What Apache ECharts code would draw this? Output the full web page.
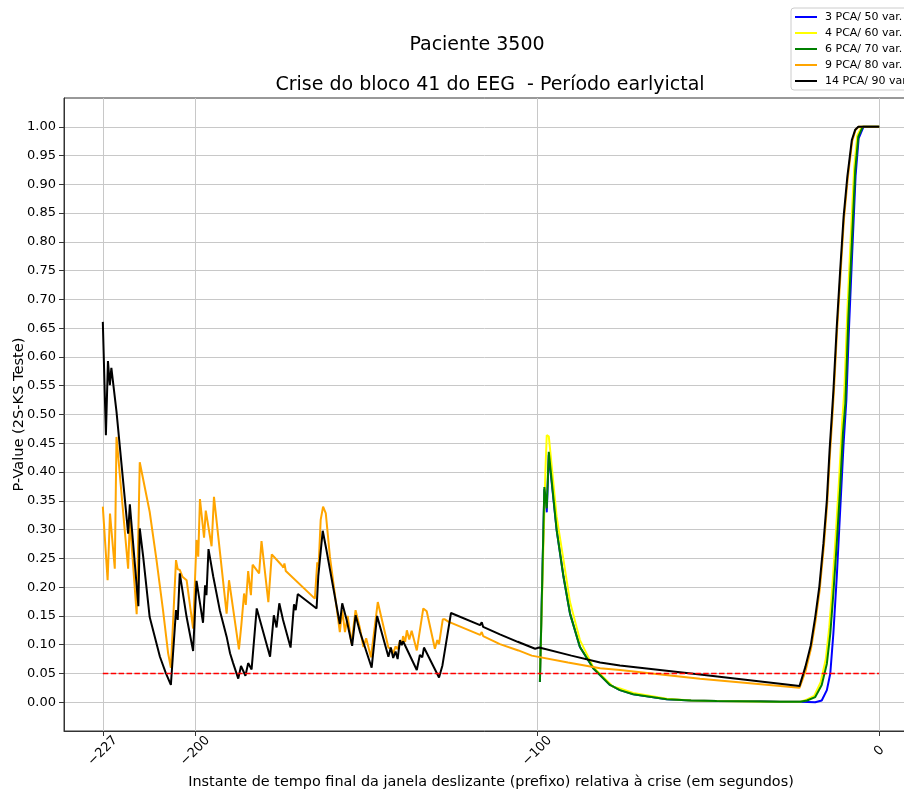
<!DOCTYPE html>
<html>
<head>
<meta charset="utf-8">
<title>Paciente 3500</title>
<script src="https://cdn.jsdelivr.net/npm/echarts@6/dist/echarts.min.js"></script>
<style>
  html, body { margin: 0; padding: 0; background: #fff; }
  #chart { width: 904px; height: 791px; }
</style>
</head>
<body>
<div id="chart"></div>
<script>
// Tick positions
var xTicks = [-227, -200, -100, 0];
var yTicks = [0, 0.05, 0.1, 0.15, 0.2, 0.25, 0.3, 0.35, 0.4, 0.45, 0.5,
              0.55, 0.6, 0.65, 0.7, 0.75, 0.8, 0.85, 0.9, 0.95, 1.0];

var seriesNames = ['3 PCA/ 50 var.', '4 PCA/ 60 var.', '6 PCA/ 70 var.', '9 PCA/ 80 var.', '14 PCA/ 90 var.'];

// p-values per window end instant [seconds, p-value]
var pca3 = [
  [-99.2, 0.035], [-97.9, 0.37], [-97.2, 0.33], [-96.6, 0.43], [-94.3, 0.299],
  [-92.3, 0.218], [-90.4, 0.154], [-87.5, 0.096], [-83.6, 0.059], [-78.7, 0.030],
  [-75.8, 0.021], [-71.9, 0.014], [-62.1, 0.005], [-55, 0.003], [-47.5, 0.002],
  [-35.6, 0.002], [-35.2, 0.004], [-34.8, 0.002], [-29.0, 0.001], [-23.1, 0.001],
  [-18.7, 0.0], [-16.8, 0.003], [-15.3, 0.021], [-14.3, 0.050], [-13.4, 0.119],
  [-12.4, 0.218], [-11.4, 0.334], [-10.4, 0.450], [-9.6, 0.525], [-8.9, 0.64],
  [-7.9, 0.78], [-6.9, 0.915], [-6.0, 0.98], [-4.6, 1.0], [0, 1.0]
];

var pca4 = [
  [-99.2, 0.04], [-97.6, 0.40], [-97.2, 0.464], [-96.6, 0.462], [-94.3, 0.322],
  [-92.3, 0.247], [-90.4, 0.174], [-87.5, 0.108], [-83.6, 0.061], [-77.8, 0.027],
  [-75.8, 0.024], [-71.9, 0.016], [-62.1, 0.006], [-55, 0.003], [-47.5, 0.002],
  [-29.0, 0.001], [-23.1, 0.001], [-21.4, 0.004], [-19.0, 0.011], [-17.1, 0.035],
  [-15.6, 0.075], [-14.6, 0.13], [-13.7, 0.2], [-12.7, 0.29], [-11.7, 0.39],
  [-10.9, 0.48], [-10.2, 0.54], [-9.3, 0.68], [-8.3, 0.81], [-7.3, 0.93],
  [-6.4, 0.985], [-5.1, 1.0], [0, 1.0]
];

var pca6 = [
  [-99.2, 0.035], [-97.9, 0.374], [-97.2, 0.337], [-96.6, 0.435], [-94.3, 0.299],
  [-92.3, 0.218], [-90.4, 0.154], [-87.5, 0.096], [-83.6, 0.059], [-78.7, 0.030],
  [-75.8, 0.021], [-71.9, 0.014], [-62.1, 0.005], [-55, 0.003], [-47.5, 0.002],
  [-29.0, 0.001], [-23.1, 0.001], [-21.1, 0.003], [-18.7, 0.009], [-16.8, 0.030],
  [-15.3, 0.067], [-14.3, 0.119], [-13.4, 0.189], [-12.4, 0.276], [-11.4, 0.374],
  [-10.6, 0.467], [-9.9, 0.519], [-9.0, 0.670], [-8.0, 0.798], [-7.0, 0.925],
  [-6.1, 0.983], [-4.8, 1.0], [0, 1.0]
];

var pca9 = [
  [-227.0, 0.340], [-225.6, 0.212], [-224.9, 0.328], [-223.5, 0.232], [-223.0, 0.461],
  [-219.6, 0.232], [-219.1, 0.317], [-217.1, 0.153], [-216.2, 0.417], [-213.3, 0.331],
  [-211.3, 0.247], [-209.4, 0.160], [-207.9, 0.085], [-207.1, 0.060], [-205.6, 0.247],
  [-205.1, 0.231], [-204.5, 0.230], [-203.7, 0.218], [-202.5, 0.212], [-200.6, 0.128],
  [-199.6, 0.282], [-199.1, 0.253], [-198.6, 0.353], [-197.4, 0.286], [-196.9, 0.333],
  [-195.2, 0.271], [-194.5, 0.357], [-190.8, 0.154], [-190.1, 0.212], [-187.2, 0.092],
  [-186.5, 0.134], [-185.7, 0.189], [-185.2, 0.169], [-184.5, 0.228], [-183.7, 0.186],
  [-183.2, 0.239], [-181.3, 0.224], [-180.6, 0.280], [-178.6, 0.174], [-177.6, 0.257],
  [-174.7, 0.238], [-174.2, 0.234], [-173.9, 0.241], [-173.5, 0.228], [-165.0, 0.180],
  [-164.3, 0.243], [-163.9, 0.237], [-163.3, 0.317], [-162.6, 0.340], [-161.8, 0.328],
  [-160.6, 0.253], [-157.7, 0.122], [-157.0, 0.160], [-156.2, 0.122], [-155.4, 0.150],
  [-154.3, 0.102], [-153.1, 0.160], [-151.8, 0.128], [-150.8, 0.096], [-150.0, 0.111],
  [-148.6, 0.078], [-146.6, 0.174], [-145.5, 0.146], [-143.5, 0.095], [-142.8, 0.093],
  [-142.1, 0.085], [-141.4, 0.097], [-140.8, 0.092], [-140.1, 0.107], [-139.6, 0.100],
  [-139.2, 0.115], [-138.6, 0.105], [-138.1, 0.125], [-137.4, 0.109], [-136.7, 0.124],
  [-135.2, 0.090], [-133.3, 0.163], [-132.8, 0.165], [-132.3, 0.158], [-129.9, 0.093],
  [-129.2, 0.108], [-128.7, 0.101], [-127.6, 0.144], [-127.0, 0.144], [-126.0, 0.140],
  [-116.7, 0.117], [-116.2, 0.122], [-115.8, 0.115], [-110.9, 0.101], [-105.5, 0.090],
  [-101.6, 0.081], [-101.4, 0.083], [-91.0, 0.069], [-81.6, 0.059], [-75.8, 0.056],
  [-52.4, 0.041], [-23.3, 0.025], [-21.5, 0.055], [-19.9, 0.094], [-18.6, 0.142],
  [-17.4, 0.195], [-16.2, 0.270], [-15.2, 0.345], [-14.4, 0.430], [-13.7, 0.495],
  [-13.2, 0.545], [-12.3, 0.648], [-11.3, 0.745], [-10.3, 0.840], [-9.2, 0.910],
  [-7.9, 0.975], [-6.9, 0.995], [-6.0, 1.0], [0, 1.0]
];

var pca14 = [
  [-227.0, 0.661], [-226.1, 0.464], [-225.5, 0.593], [-224.95, 0.551], [-224.5, 0.581],
  [-223.0, 0.505], [-219.6, 0.293], [-219.1, 0.344], [-216.6, 0.167], [-216.2, 0.302],
  [-215.2, 0.253], [-213.3, 0.148], [-210.3, 0.079], [-208.6, 0.051], [-207.1, 0.030],
  [-205.6, 0.160], [-205.1, 0.143], [-204.5, 0.224], [-202.5, 0.148], [-200.6, 0.089],
  [-199.6, 0.211], [-197.7, 0.138], [-197.1, 0.203], [-196.7, 0.186], [-196.1, 0.266],
  [-194.7, 0.218], [-192.8, 0.160], [-190.8, 0.114], [-189.8, 0.085], [-188.9, 0.068],
  [-187.4, 0.041], [-186.6, 0.063], [-185.3, 0.046], [-184.5, 0.068], [-183.5, 0.057],
  [-182.0, 0.163], [-178.1, 0.079], [-177.0, 0.151], [-176.2, 0.130], [-175.4, 0.172],
  [-174.3, 0.143], [-172.1, 0.095], [-171.1, 0.170], [-170.6, 0.160], [-170.0, 0.188],
  [-164.5, 0.163], [-164.0, 0.219], [-163.7, 0.218], [-162.7, 0.298], [-161.6, 0.264],
  [-157.7, 0.136], [-157.0, 0.172], [-155.7, 0.143], [-154.1, 0.098], [-153.1, 0.151],
  [-151.8, 0.122], [-148.4, 0.060], [-146.8, 0.150], [-143.5, 0.079], [-142.8, 0.095],
  [-142.1, 0.077], [-141.4, 0.088], [-140.8, 0.075], [-140.1, 0.108], [-139.6, 0.099],
  [-139.2, 0.106], [-135.2, 0.056], [-134.3, 0.082], [-133.6, 0.078], [-133.1, 0.095],
  [-128.7, 0.043], [-127.7, 0.064], [-127.2, 0.067], [-125.2, 0.155], [-116.7, 0.134],
  [-116.2, 0.139], [-115.8, 0.131], [-110.9, 0.118], [-105.7, 0.105], [-100.6, 0.093],
  [-99.4, 0.095], [-90.0, 0.081], [-81.6, 0.069], [-75.8, 0.064], [-52.4, 0.048],
  [-23.3, 0.028], [-21.6, 0.061], [-20.0, 0.099], [-18.7, 0.148], [-17.5, 0.201],
  [-16.3, 0.276], [-15.3, 0.351], [-14.5, 0.438], [-13.8, 0.502], [-13.4, 0.540],
  [-12.4, 0.653], [-11.4, 0.751], [-10.4, 0.844], [-9.3, 0.914], [-8.0, 0.977],
  [-7.0, 0.995], [-6.1, 1.0], [0, 1.0]
];

// significance threshold
var threshold = [[-227, 0.05], [0, 0.05]];

var colors = ['#0000ff', '#ffff00', '#008000', '#ffa500', '#000000'];
var seriesData = [pca3, pca4, pca6, pca9, pca14];

var FONT = 'DejaVu Sans';
var chart = echarts.init(document.getElementById('chart'), null, { renderer: 'canvas' });

function minusSign(v) {
  return String(v).replace('-', '\u2212');
}

var series = seriesData.map(function (d, i) {
  return {
    name: seriesNames[i],
    type: 'line',
    data: d,
    showSymbol: false,
    symbol: 'none',
    color: colors[i],
    lineStyle: { color: colors[i], width: 2 },
    z: 2 + i,
    animation: false,
    clip: true
  };
});
series.push({
  name: 'limiar',
  type: 'line',
  data: threshold,
  showSymbol: false,
  symbol: 'none',
  color: '#ff0000',
  lineStyle: { color: '#ff0000', width: 1.6, type: [5.5, 2.4] },
  z: 10,
  animation: false
});

chart.setOption({
  animation: false,
  backgroundColor: '#fff',
  title: [
    {
      text: 'Paciente 3500',
      left: 477, top: 36, textAlign: 'center', padding: 0,
      textStyle: { fontFamily: FONT, fontSize: 19, fontWeight: 'normal', color: '#000' }
    },
    {
      text: 'Crise do bloco 41 do EEG  - Período earlyictal',
      left: 490, top: 76, textAlign: 'center', padding: 0,
      textStyle: { fontFamily: FONT, fontSize: 19, fontWeight: 'normal', color: '#000' }
    }
  ],
  legend: {
    data: seriesNames,
    orient: 'vertical',
    left: 791, top: 8,
    icon: 'rect',
    itemWidth: 22, itemHeight: 2,
    itemGap: 4,
    padding: [3, 20, 3, 4],
    backgroundColor: 'rgba(255,255,255,0.8)',
    borderColor: '#cccccc', borderWidth: 1, borderRadius: 3,
    textStyle: { fontFamily: FONT, fontSize: 11, color: '#000', lineHeight: 12, padding: [0, 0, 0, 3] }
  },
  grid: {
    left: 64, top: 98, right: -14, bottom: 60,
    outerBoundsMode: 'none',
    show: true, borderColor: '#333', borderWidth: 1, backgroundColor: 'transparent',
    containLabel: false
  },
  xAxis: {
    type: 'value',
    min: -238.35, max: 11.35,
    name: 'Instante de tempo final da janela deslizante (prefixo) relativa à crise (em segundos)',
    nameLocation: 'middle', nameGap: 44, nameMoveOverlap: false,
    nameTextStyle: { fontFamily: FONT, fontSize: 14.4, color: '#000' },
    axisLine: { show: true, onZero: false, lineStyle: { color: '#333', width: 1 } },
    axisTick: { show: true, inside: false, length: 5, customValues: xTicks, lineStyle: { color: '#333' } },
    axisLabel: {
      customValues: xTicks, rotate: 45, margin: 20, align: 'center', verticalAlign: 'middle',
      fontFamily: FONT, fontSize: 13, color: '#000',
      formatter: minusSign
    },
    splitLine: { show: true, lineStyle: { color: '#c8c8c8', width: 1 } }
  },
  yAxis: {
    type: 'value',
    min: -0.05, max: 1.05,
    name: 'P-Value (2S-KS Teste)',
    nameLocation: 'middle', nameGap: 37, nameMoveOverlap: false,
    nameTextStyle: { fontFamily: FONT, fontSize: 14.6, color: '#000' },
    axisLine: { show: true, onZero: false, lineStyle: { color: '#333', width: 1 } },
    axisTick: { show: true, inside: false, length: 5, customValues: yTicks, lineStyle: { color: '#333' } },
    axisLabel: {
      customValues: yTicks, margin: 8,
      fontFamily: FONT, fontSize: 13, color: '#000',
      formatter: function (v) { return v.toFixed(2); }
    },
    splitLine: { show: true, lineStyle: { color: '#c8c8c8', width: 1 } }
  },
  series: series
});
</script>
</body>
</html>
